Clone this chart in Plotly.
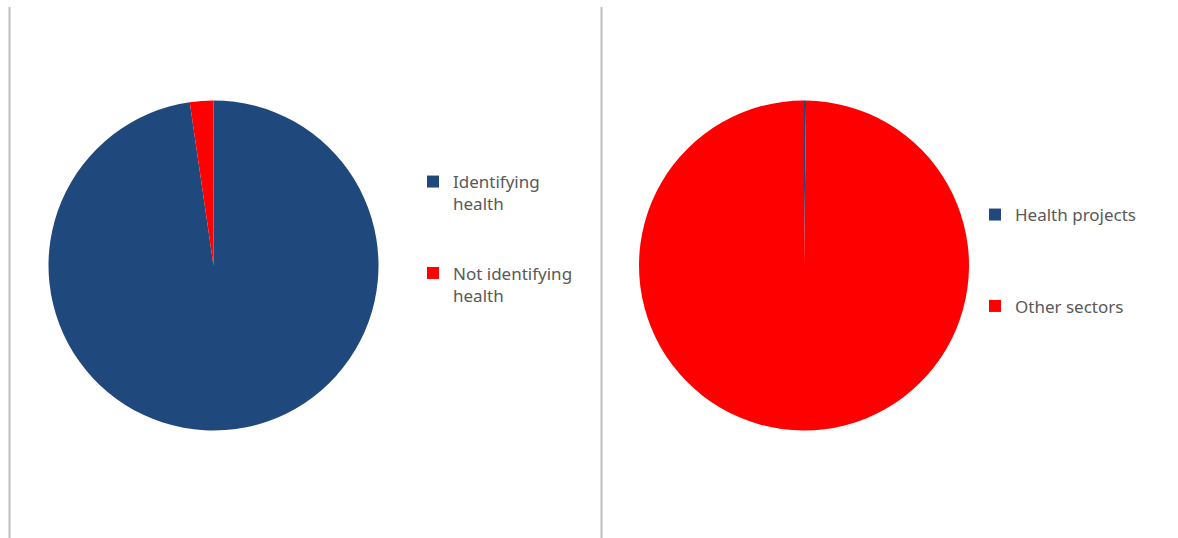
import plotly.graph_objects as go

# Share of projects identifying health
left_labels = ["Identifying<br>health<br> <br> ", "Not identifying<br>health"]
left_values = [97.7, 2.3]

# Share of funding by sector
right_labels = ["Health projects<br> <br> <br> ", "Other sectors"]
right_values = [0.2, 99.8]

slice_colors = ["#1F497D", "#FF0000"]

W, H = 1178, 538


def px_dom(cx, cy, r):
    """Convert a pixel centre/radius into a paper domain."""
    return dict(x=[(cx - r) / W, (cx + r) / W],
                y=[(H - cy - r) / H, (H - cy + r) / H])


fig = go.Figure()
fig.add_trace(go.Pie(
    labels=left_labels, values=left_values, sort=False,
    direction="clockwise", rotation=0,
    marker=dict(colors=slice_colors, line=dict(width=0)),
    textinfo="none", hoverinfo="label+percent",
    domain=px_dom(213.5, 265.5, 165), legend="legend",
))
fig.add_trace(go.Pie(
    labels=right_labels, values=right_values, sort=False,
    direction="clockwise", rotation=0,
    marker=dict(colors=slice_colors, line=dict(width=0)),
    textinfo="none", hoverinfo="label+percent",
    domain=px_dom(804, 265.5, 165), legend="legend2",
))

legend_font = dict(family="Noto Sans", size=17, color="#595959")
fig.update_layout(
    width=W, height=H,
    margin=dict(l=0, r=0, t=0, b=0),
    paper_bgcolor="white", plot_bgcolor="white",
    legend=dict(x=413 / W, y=1 - 164 / H, xanchor="left", yanchor="top",
                font=legend_font, valign="top", bgcolor="rgba(0,0,0,0)"),
    legend2=dict(x=975 / W, y=1 - 197 / H, xanchor="left", yanchor="top",
                 font=legend_font, valign="top", bgcolor="rgba(0,0,0,0)"),
    shapes=[
        dict(type="line", xref="paper", yref="paper",
             x0=9.5 / W, x1=9.5 / W, y0=0, y1=1 - 7 / H,
             line=dict(color="#BDBDBD", width=2)),
        dict(type="line", xref="paper", yref="paper",
             x0=601.5 / W, x1=601.5 / W, y0=0, y1=1 - 7 / H,
             line=dict(color="#BDBDBD", width=2)),
    ],
)

fig.write_html("out.html")
